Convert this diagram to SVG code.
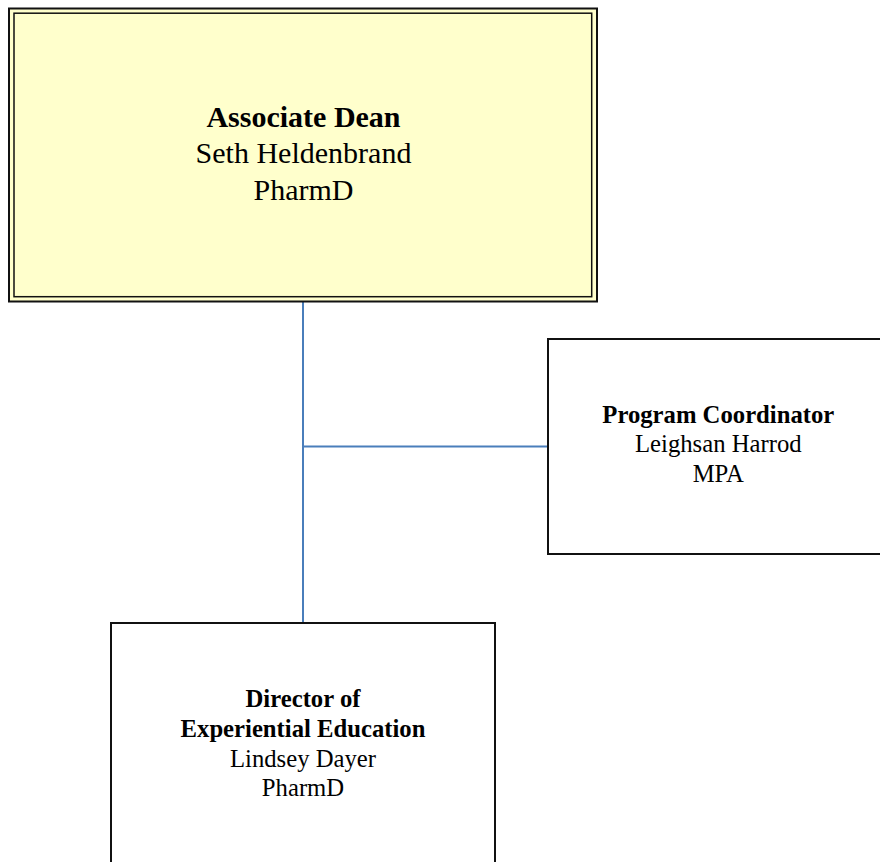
<svg xmlns="http://www.w3.org/2000/svg" width="880" height="862" viewBox="0 0 880 862">
<style>
.box{fill:#ffffff;stroke:#111111;stroke-width:2}
.t{font-family:"Liberation Serif","Times New Roman",serif;fill:#000000;text-anchor:middle}
.b{font-weight:bold}
.conn{stroke:#4a7ebb;stroke-width:2;fill:none}
</style>
<rect width="880" height="862" fill="#ffffff"/>
<g id="connectors">
<line class="conn" x1="303" y1="302" x2="303" y2="623"/>
<line class="conn" x1="303" y1="446.5" x2="548" y2="446.5"/>
</g>
<g id="associate-dean">
<rect x="9" y="8.5" width="588" height="293" fill="#ffffcc" stroke="#111111" stroke-width="2"/>
<rect x="14" y="13.2" width="577.7" height="283.5" fill="none" stroke="#111111" stroke-width="1.5"/>
<text class="t b" x="303.5" y="127" font-size="30">Associate Dean</text>
<text class="t" x="303.5" y="163.3" font-size="30">Seth Heldenbrand</text>
<text class="t" x="303.5" y="199.8" font-size="30">PharmD</text>
</g>
<g id="program-coordinator">
<rect class="box" x="548" y="339" width="345" height="215"/>
<text class="t b" x="718.3" y="423.3" font-size="24.7">Program Coordinator</text>
<text class="t" x="718.3" y="452.3" font-size="24.7">Leighsan Harrod</text>
<text class="t" x="718.3" y="481.7" font-size="24.7">MPA</text>
</g>
<g id="director">
<rect class="box" x="111" y="623" width="384" height="260"/>
<text class="t b" x="303" y="707.3" font-size="24.7">Director of</text>
<text class="t b" x="303" y="737.3" font-size="24.7">Experiential Education</text>
<text class="t" x="303" y="766.7" font-size="24.7">Lindsey Dayer</text>
<text class="t" x="303" y="795.7" font-size="24.7">PharmD</text>
</g>
</svg>
